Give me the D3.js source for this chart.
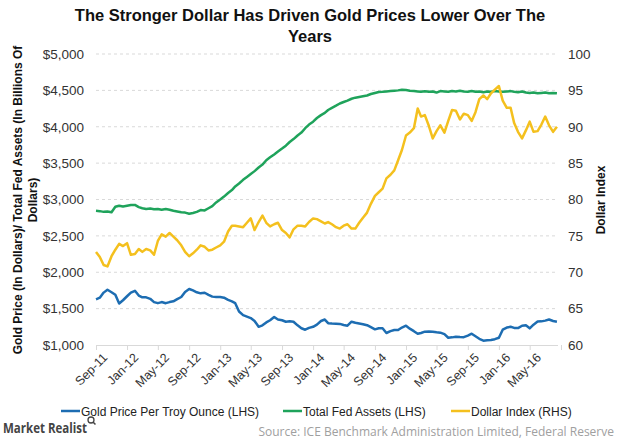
<!DOCTYPE html>
<html><head><meta charset="utf-8">
<script src="https://cdn.jsdelivr.net/npm/d3@7"></script>
<style>
body{margin:0;background:#fff;}
svg{display:block;font-family:"Liberation Sans",Arial,sans-serif;}
</style></head>
<body><svg id="c" width="620" height="443"></svg>
<script>
// Semi-monthly observations starting Sep 2011
const startYear = 2011, startMonth = 8;
const goldPrice = [1628,1650,1720,1760,1725,1690,1570,1615,1670,1720,1745,1680,1655,1655,1635,1590,1575,1590,1575,1590,
1600,1630,1660,1730,1770,1750,1725,1710,1718,1690,1665,1660,1660,1650,1620,1600,1575,1460,1410,1390,
1370,1330,1250,1270,1310,1340,1385,1350,1340,1320,1325,1320,1270,1230,1210,1235,1250,1280,1330,1350,
1300,1295,1292,1290,1275,1265,1320,1305,1295,1285,1272,1245,1215,1230,1230,1165,1190,1206,1206,1240,
1265,1225,1190,1155,1165,1183,1185,1183,1175,1170,1150,1100,1105,1114,1110,1108,1130,1155,1120,1085,
1060,1065,1068,1080,1100,1210,1240,1250,1235,1232,1265,1270,1229,1280,1322,1325,1335,1350,1330,1320];
const fedAssets = [2845,2840,2830,2835,2825,2900,2915,2905,2915,2925,2925,2895,2880,2870,2875,2865,2870,2860,2870,2860,
2845,2835,2825,2820,2805,2815,2830,2855,2850,2880,2910,2960,3000,3040,3090,3130,3180,3220,3270,3310,
3350,3390,3440,3480,3540,3580,3620,3660,3700,3740,3790,3830,3880,3920,3980,4030,4070,4120,4160,4190,
4230,4260,4290,4320,4340,4360,4385,4400,4410,4420,4430,4450,4465,4478,4480,4485,4490,4495,4500,4510,
4505,4495,4490,4485,4480,4488,4480,4485,4470,4490,4485,4480,4490,4485,4495,4485,4480,4490,4480,4485,
4475,4485,4480,4490,4485,4480,4485,4490,4480,4475,4485,4470,4465,4470,4460,4465,4470,4460,4465,4460];
const dollarIndex = [72.8,72.1,71.0,70.8,72.2,73.1,73.9,73.6,74.0,72.4,72.5,73.2,72.8,73.2,73.0,72.4,74.3,75.2,74.9,75.4,
74.9,74.4,73.7,72.8,72.2,72.6,73.1,73.7,73.5,73.0,73.1,73.4,73.7,74.2,75.6,76.4,76.4,76.3,76.2,76.8,
77.4,75.8,76.9,77.8,76.8,76.3,76.6,76.8,75.8,75.4,74.8,75.9,76.4,76.4,76.3,76.9,77.4,77.3,77.0,76.7,
76.9,76.6,76.2,76.0,76.4,76.6,76.0,76.0,76.8,77.5,78.2,79.4,80.5,81.0,81.5,82.9,83.4,84.0,85.4,86.8,
88.8,89.2,89.8,92.5,91.4,91.6,90.1,88.4,89.4,90.2,89.2,90.8,92.3,92.2,91.0,91.8,91.6,90.8,92.0,93.8,
94.3,93.8,94.6,95.1,95.6,93.6,92.6,92.6,90.5,89.3,88.4,89.5,90.7,89.3,89.4,90.3,91.4,90.2,89.3,90.0];
const xTickLabels = ["Sep-11","Jan-12","May-12","Sep-12","Jan-13","May-13","Sep-13","Jan-14","May-14","Sep-14","Jan-15","May-15","Sep-15","Jan-16","May-16"];
const leftTicks = [1000,1500,2000,2500,3000,3500,4000,4500,5000];
const rightTicks = [60,65,70,75,80,85,90,95,100];
const seriesNames = ["Gold Price Per Troy Ounce (LHS)","Total Fed Assets (LHS)","Dollar Index (RHS)"];

const dates = goldPrice.map((_, i) => new Date(startYear, startMonth + Math.floor(i/2), i % 2 ? 16 : 1));
const tickDates = xTickLabels.map((_, k) => new Date(startYear, startMonth + 4*k, 1));

const svg = d3.select("#c");
const L = 96, R = 558, T = 54, B = 345;
const monthPx = 7.75;
const x = d3.scaleTime().domain([new Date(2011,8,1), new Date(2016,8,1)]).range([L, L + 60*monthPx]);
const yL = d3.scaleLinear().domain([1000,5000]).range([B,T]);
const yR = d3.scaleLinear().domain([60,100]).range([B,T]);

const colors = ["#1d6db2","#1fa35b","#f4c01e"];

// title
const title = svg.append("text").attr("text-anchor","middle").attr("font-weight","bold").attr("font-size",16.5).attr("fill","#111");
title.append("tspan").attr("x",310).attr("y",21).text("The Stronger Dollar Has Driven Gold Prices Lower Over The");
title.append("tspan").attr("x",310).attr("y",42).text("Years");

// gridlines
svg.append("g").selectAll("line").data(leftTicks.slice(1)).join("line")
  .attr("x1",L).attr("x2",R).attr("y1",d=>yL(d)).attr("y2",d=>yL(d))
  .attr("stroke","#d9d9d9").attr("stroke-width",1).attr("stroke-dasharray","3,3");

// left axis
const gl = svg.append("g").attr("transform",`translate(${L},0)`)
  .call(d3.axisLeft(yL).tickValues(leftTicks).tickSize(0).tickPadding(12).tickFormat(d=>"$"+d3.format(",")(d)));
gl.select(".domain").remove();
gl.selectAll("text").attr("font-size",13.5).attr("fill","#333").attr("font-family","Liberation Sans, Arial, sans-serif");

// right axis
const gr = svg.append("g").attr("transform",`translate(${R},0)`)
  .call(d3.axisRight(yR).tickValues(rightTicks).tickSize(0).tickPadding(10));
gr.select(".domain").remove();
gr.selectAll("text").attr("font-size",13.5).attr("fill","#333").attr("font-family","Liberation Sans, Arial, sans-serif");

// bottom axis
const gb = svg.append("g").attr("transform",`translate(0,${B})`)
  .call(d3.axisBottom(x).tickValues(tickDates.concat([new Date(2016,8,1)])).tickSize(5).tickFormat((d,i)=>xTickLabels[i]||""));
gb.select(".domain").attr("stroke","#d9d9d9").attr("d",`M${L},0.5H${R}`);
gb.selectAll(".tick line").attr("stroke","#d9d9d9");
gb.selectAll("text").attr("font-size",12.5).attr("fill","#333").attr("font-family","Liberation Sans, Arial, sans-serif")
  .attr("text-anchor","end").attr("transform","translate(3,3) rotate(-45)").attr("dy","0.6em").attr("dx","-0.1em").attr("y",6);

// lines
const lineL = d3.line().x((d,i)=>x(dates[i])).y(d=>yL(d));
const lineR = d3.line().x((d,i)=>x(dates[i])).y(d=>yR(d));
svg.append("path").datum(fedAssets).attr("d",lineL).attr("fill","none").attr("stroke",colors[1]).attr("stroke-width",2.5).attr("stroke-linejoin","round");
svg.append("path").datum(dollarIndex).attr("d",lineR).attr("fill","none").attr("stroke",colors[2]).attr("stroke-width",2.5).attr("stroke-linejoin","round");
svg.append("path").datum(goldPrice).attr("d",lineL).attr("fill","none").attr("stroke",colors[0]).attr("stroke-width",2.5).attr("stroke-linejoin","round");

// axis titles
const lt = svg.append("text").attr("transform","translate(22,200) rotate(-90)").attr("text-anchor","middle")
  .attr("font-weight","bold").attr("font-size",12).attr("fill","#111");
lt.append("tspan").attr("x",0).attr("y",0).text("Gold Price (In Dollars)/ Total Fed Assets (In Billions Of");
lt.append("tspan").attr("x",0).attr("y",15).text("Dollars)");
svg.append("text").attr("transform","translate(605,200) rotate(-90)").attr("text-anchor","middle")
  .attr("font-weight","bold").attr("font-size",12).attr("fill","#111").text("Dollar Index");

// legend
const legX = [61,283,451];
const leg = svg.append("g").selectAll("g").data(seriesNames).join("g").attr("transform",(d,i)=>`translate(${legX[i]},411)`);
leg.append("line").attr("x1",0).attr("x2",19).attr("y1",0).attr("y2",0).attr("stroke",(d,i)=>colors[i]).attr("stroke-width",2.5);
leg.append("text").attr("x",20).attr("y",4.5).attr("font-size",12).attr("fill","#222").text(d=>d);

// footer
const mr = svg.append("g");
mr.append("text").attr("x",3).attr("y",433).attr("font-size",14.5).attr("font-weight","bold").attr("fill","#444")
  .attr("font-family","Open Sans, sans-serif").attr("textLength",84).attr("lengthAdjust","spacingAndGlyphs").text("Market Realist");
mr.append("circle").attr("cx",91).attr("cy",420).attr("r",3).attr("fill","none").attr("stroke","#444").attr("stroke-width",1.3);
mr.append("line").attr("x1",93.2).attr("y1",422.2).attr("x2",95.5).attr("y2",424.5).attr("stroke","#444").attr("stroke-width",1.5);
svg.append("text").attr("x",614).attr("y",436).attr("text-anchor","end").attr("font-size",12).attr("fill","#a0a0a0")
  .attr("font-family","Open Sans, sans-serif").text("Source: ICE Benchmark Administration Limited, Federal Reserve");
</script></body></html>
